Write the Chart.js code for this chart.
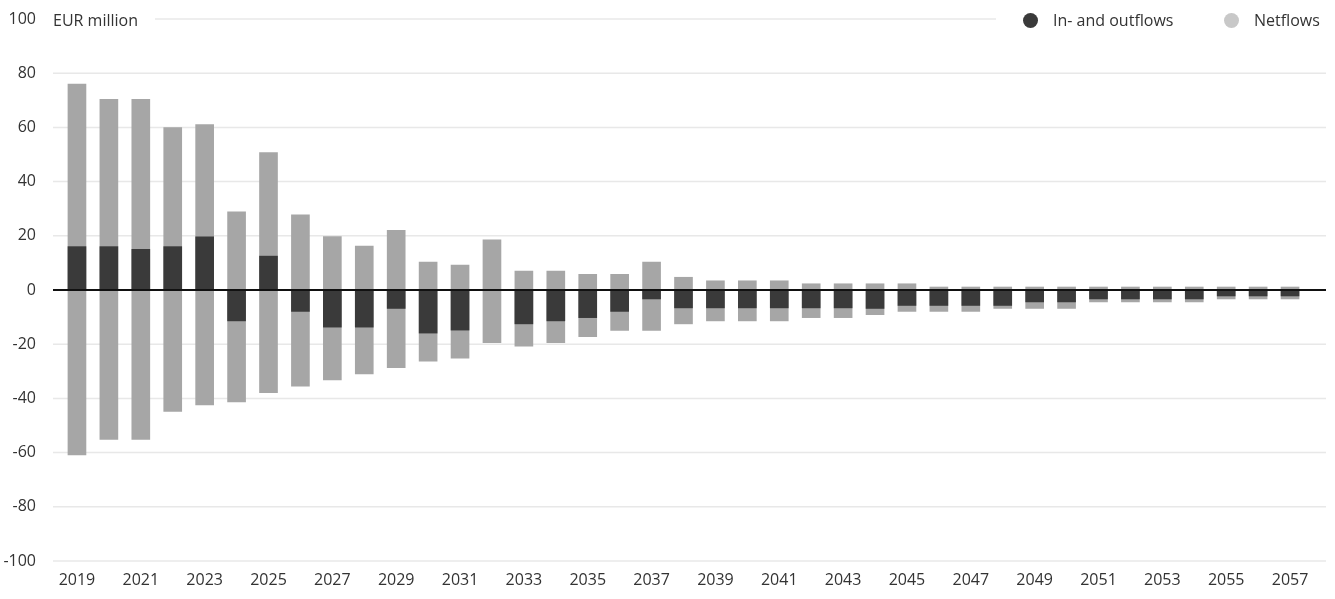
<!DOCTYPE html>
<html>
<head>
<meta charset="utf-8">
<script src="https://cdn.jsdelivr.net/npm/chart.js@4.4.0/dist/chart.umd.min.js"></script>
<style>
    body { margin: 0; background: #fff; font-family: "Open Sans", sans-serif; color: #333; }
    #wrap { position: relative; width: 1335px; height: 599px; }
    .lbl { position: absolute; font-size: 16px; line-height: 20px; white-space: nowrap; }
    .dot { position: absolute; width: 15px; height: 15px; border-radius: 50%; }
</style>
</head>
<body>
<div id="wrap">
    <canvas id="chartFlows"></canvas>
    <div class="lbl" style="left:53px; top:10px;">EUR million</div>
    <div class="dot" style="left:1023px; top:13px; background:#3a3a3a;"></div>
    <div class="lbl" style="left:1053px; top:10px;">In- and outflows</div>
    <div class="dot" style="left:1224px; top:13px; background:#c8c8c8;"></div>
    <div class="lbl" style="left:1254px; top:10px;">Netflows</div>
</div>
<script>
// Datos
const years = [2019, 2020, 2021, 2022, 2023, 2024, 2025, 2026, 2027, 2028,
    2029, 2030, 2031, 2032, 2033, 2034, 2035, 2036, 2037, 2038,
    2039, 2040, 2041, 2042, 2043, 2044, 2045, 2046, 2047, 2048,
    2049, 2050, 2051, 2052, 2053, 2054, 2055, 2056, 2057];

// barra oscura (desde 0)
const inOutflows = [16, 16, 15, 16, 19.6, -11.4, 12.5, -7.9, -13.7, -13.7,
    -6.8, -15.9, -14.8, 0, -12.5, -11.4, -10.2, -7.9, -3.3, -6.6,
    -6.6, -6.6, -6.6, -6.6, -6.6, -6.8, -5.7, -5.7, -5.7, -5.7,
    -4.4, -4.4, -3.3, -3.3, -3.3, -3.3, -2.2, -2.2, -2.2];

// barra gris: extremo superior e inferior
const netflowsHigh = [76, 70.4, 70.4, 59.9, 61, 28.8, 50.7, 27.7, 19.7, 16.2,
    22, 10.3, 9.2, 18.5, 7, 7, 5.8, 5.8, 10.3, 4.7,
    3.4, 3.4, 3.4, 2.3, 2.3, 2.3, 2.3, 1.1, 1.1, 1.1,
    1.1, 1.1, 1.1, 1.1, 1.1, 1.1, 1.1, 1.1, 1.1];
const netflowsLow = [-60.9, -55.1, -55.1, -44.8, -42.4, -41.3, -37.9, -35.5, -33.2, -31.0,
    -28.7, -26.3, -25.2, -19.4, -20.7, -19.4, -17.2, -14.9, -14.9, -12.5,
    -11.4, -11.4, -11.4, -10.2, -10.2, -9.1, -7.9, -7.9, -7.9, -6.8,
    -6.8, -6.8, -4.4, -4.4, -4.4, -4.4, -3.3, -3.3, -3.3];

const colorDark = '#3a3a3a';
const colorGrey = '#a6a6a6';
const colorGrid = '#e8e8e8';
const colorText = '#333333';

// lineas de rejilla y linea cero, un poco mas anchas que el area de barras
const refGrid = {
    id: 'refGrid',
    beforeDatasetsDraw(chart) {
        const { ctx, chartArea, scales } = chart;
        ctx.save();
        ctx.strokeStyle = colorGrid;
        ctx.lineWidth = 1.5;
        scales.y.ticks.forEach(t => {
            if (t.value === 0) return;
            const py = scales.y.getPixelForValue(t.value);
            const x0 = t.value === 100 ? 155 : chartArea.left - 8;
            const x1 = t.value === 100 ? 996 : chartArea.right + 20;
            ctx.beginPath();
            ctx.moveTo(x0, py);
            ctx.lineTo(x1, py);
            ctx.stroke();
        });
        ctx.restore();
    },
    afterDatasetsDraw(chart) {
        const { ctx, chartArea, scales } = chart;
        const py = scales.y.getPixelForValue(0);
        ctx.save();
        ctx.strokeStyle = '#111';
        ctx.lineWidth = 2;
        ctx.beginPath();
        ctx.moveTo(chartArea.left - 8, py);
        ctx.lineTo(chartArea.right + 20, py);
        ctx.stroke();
        ctx.restore();
    }
};

Chart.defaults.font.family = '"Open Sans", sans-serif';
Chart.defaults.font.size = 16;
Chart.defaults.color = colorText;

const ctx = document.getElementById('chartFlows').getContext('2d');
new Chart(ctx, {
    type: 'bar',
    data: {
        labels: years,
        datasets: [{
            label: 'In- and outflows',
            data: inOutflows.map(v => [0, v]),
            backgroundColor: colorDark,
            barThickness: 18,
            grouped: false
        }, {
            label: 'Netflows',
            data: netflowsLow.map((lo, i) => [lo, netflowsHigh[i]]),
            backgroundColor: colorGrey,
            barThickness: 18,
            grouped: false
        }]
    },
    options: {
        responsive: true,
        maintainAspectRatio: false,
        animation: false,
        layout: { padding: { top: 19, right: 29, bottom: 9, left: 0 } },
        plugins: { legend: { display: false }, tooltip: { enabled: false } },
        scales: {
            x: {
                grid: { display: false, drawTicks: false },
                border: { display: false },
                ticks: {
                    autoSkip: false,
                    maxRotation: 0,
                    padding: 10,
                    callback: (v, i) => i % 2 === 0 ? years[i] : ''
                },
                afterFit: s => { s.height = 29; s.paddingLeft = 0; s.paddingRight = 0; }
            },
            y: {
                min: -100,
                max: 100,
                grid: { display: false, drawTicks: false },
                border: { display: false },
                ticks: { stepSize: 20, padding: 25 },
                afterFit: s => { s.width = 61; s.paddingTop = 0; s.paddingBottom = 0; }
            }
        }
    },
    plugins: [refGrid]
});
</script>
</body>
</html>
